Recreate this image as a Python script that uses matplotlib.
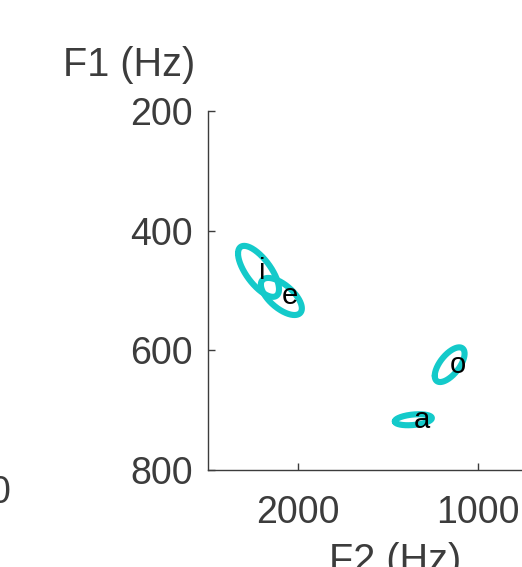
import numpy as np
import matplotlib
matplotlib.use("Agg")
import matplotlib.pyplot as plt

# ---- data ----
vowels = ["i", "e", "a", "o"]
f1_mean = [468, 510, 716, 624]      # Hz
f2_mean = [2219, 2092, 1358, 1156]  # Hz
f1_sd = [42.6, 31, 9.2, 29]
f2_sd = [114, 114, 103, 83]
f1_f2_corr = [-0.7, -0.64, 0.3, 0.64]

y_ticks = [200, 400, 600, 800]
x_ticks = [2000, 1000]

plt.rcParams['font.family'] = ['Liberation Sans', 'DejaVu Sans']
GRAY = '#3c3c3c'
CYAN = '#14caca'

fig = plt.figure(figsize=(5.22, 5.67), dpi=100)
ax = fig.add_axes([208/522, 97/567, 374/522, 359/567])

t = np.linspace(0, 2*np.pi, 300)
circ = np.vstack([np.cos(t), np.sin(t)])
for v, m1, m2, s1, s2, r in zip(vowels, f1_mean, f2_mean, f1_sd, f2_sd, f1_f2_corr):
    cov = np.array([[s2**2, r*s1*s2], [r*s1*s2, s1**2]])
    L = np.linalg.cholesky(cov)
    pts = L @ circ
    ax.plot(m2 + pts[0], m1 + pts[1], color=CYAN, lw=4.4, solid_capstyle='round')
    ax.text(m2, m1, v, ha='left', va='center', fontsize=21, color='black')

ax.set_xlim(2500, 420)
ax.set_ylim(800, 200)
ax.set_yticks(y_ticks)
ax.set_xticks(x_ticks)
for s in ['top', 'right']:
    ax.spines[s].set_visible(False)
for s in ['left', 'bottom']:
    ax.spines[s].set_color(GRAY)
    ax.spines[s].set_linewidth(1.0)
ax.tick_params(direction='in', length=5, width=1.0, color=GRAY,
               labelsize=27, labelcolor=GRAY)
ax.tick_params(axis='y', pad=11)
ax.tick_params(axis='x', pad=18)

ax.set_xlabel('F2 (Hz)', fontsize=28.5, color=GRAY)
ax.xaxis.set_label_coords(0.5, -0.2)
ax.set_ylabel('F1 (Hz)', fontsize=28.5, color=GRAY, rotation=0, ha='right', va='center')
ax.yaxis.set_label_coords((195-208)/374, (470-65)/359)

fig.text(10/522, 1-493/567, '0', ha='right', va='center', fontsize=27, color=GRAY)

fig.savefig('out.png', dpi=100)
